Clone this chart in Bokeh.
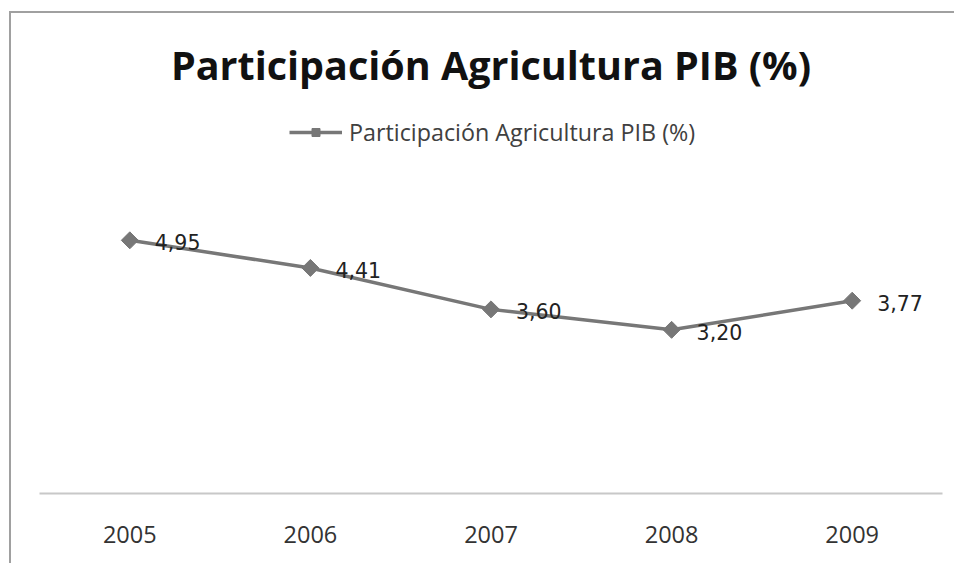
from bokeh.plotting import figure
from bokeh.models import ColumnDataSource, FactorRange, Range1d, LabelSet, Legend, LegendItem
from bokeh.core.properties import value
from bokeh.embed import file_html
from bokeh.resources import INLINE

years = ["2005", "2006", "2007", "2008", "2009"]
values = [4.95, 4.41, 3.60, 3.20, 3.77]
labels = [f"{v:.2f}".replace(".", ",") for v in values]
series_name = "Participación Agricultura PIB (%)"
title_text = "Participación Agricultura PIB (%)"

src = ColumnDataSource(data=dict(year=years, value=values, label=labels))

p = figure(
    width=945, height=552,
    x_range=FactorRange(factors=years, range_padding=0),
    y_range=Range1d(0, 7.41),
    output_backend="svg", toolbar_location=None,
    min_border_left=28, min_border_right=14, min_border_bottom=72, min_border_top=100,
)
p.styles = {"margin-left": "9px", "margin-top": "11px",
            "border-left": "2px solid #a0a0a0", "border-top": "2px solid #a0a0a0"}

p.title.text = title_text
p.title.align = "center"
p.title.text_font = "Open Sans"
p.title.text_font_size = "39.5px"
p.title.text_font_style = "bold"
p.title.text_color = "#111111"
p.title.standoff = 45

p.outline_line_color = None
p.xgrid.visible = False
p.ygrid.visible = False
p.yaxis.visible = False

ax = p.xaxis[0]
ax.axis_line_color = "#c8c8c8"
ax.axis_line_width = 2
ax.major_tick_line_color = None
ax.minor_tick_line_color = None
ax.major_label_text_font = "Open Sans"
ax.major_label_text_font_size = "23.5px"
ax.major_label_text_color = "#333333"
ax.major_label_standoff = 26

line_color = "#777777"
ln = p.line("year", "value", source=src, line_color=line_color, line_width=3.5)
mk = p.scatter("year", "value", source=src, marker="square", angle=0.785398,
               size=12, fill_color=line_color, line_color=line_color)

lbl = LabelSet(x="year", y="value", text="label", source=src,
               x_offset=25, y_offset=-2, text_baseline="middle", text_align="left",
               text_font=value("DejaVu Sans"), text_font_size=value("20.5px"),
               text_color=value("#222222"))
p.add_layout(lbl)

legend = Legend(items=[LegendItem(label=series_name, renderers=[ln, mk])],
                location=(250, 345), orientation="horizontal",
                border_line_color=None, background_fill_alpha=0,
                padding=0, margin=0, glyph_width=53, glyph_height=20,
                label_height=20, label_standoff=7,
                label_text_font="Open Sans", label_text_font_size="23.3px",
                label_text_color="#404040")
p.add_layout(legend)

open("out.html", "w").write(file_html(p, INLINE))
